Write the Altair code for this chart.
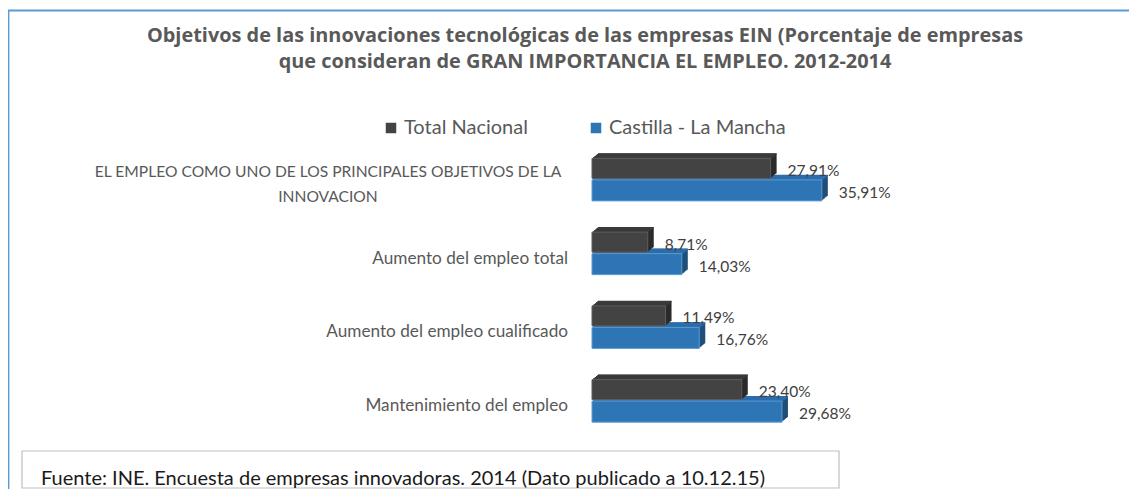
import altair as alt
import pandas as pd

# ---------------- data ----------------
categorias = [
    "EL EMPLEO COMO UNO DE LOS PRINCIPALES OBJETIVOS DE LA INNOVACION",
    "Aumento del empleo total",
    "Aumento del empleo cualificado",
    "Mantenimiento del empleo",
]
etiquetas = [
    "EL EMPLEO COMO UNO DE LOS PRINCIPALES OBJETIVOS DE LA|INNOVACION",
    "Aumento del empleo total",
    "Aumento del empleo cualificado",
    "Mantenimiento del empleo",
]
series = ["Total Nacional", "Castilla - La Mancha"]
total_nacional = [27.91, 8.71, 11.49, 23.40]
castilla_la_mancha = [35.91, 14.03, 16.76, 29.68]

titulo = [
    "Objetivos de las innovaciones tecnológicas de las empresas EIN (Porcentaje de empresas",
    "que consideran de GRAN IMPORTANCIA EL EMPLEO. 2012-2014",
]
fuente = "Fuente: INE. Encuesta de empresas innovadoras. 2014  (Dato publicado a 10.12.15)"

rows = []
for c, e, t, cl in zip(categorias, etiquetas, total_nacional, castilla_la_mancha):
    rows.append({"cat": c, "etiqueta": e, "serie": series[0], "valor": t})
    rows.append({"cat": c, "etiqueta": e, "serie": series[1], "valor": cl})
df = pd.DataFrame(rows)
df_cat = pd.DataFrame({"cat": categorias, "etiqueta": etiquetas})
df_dec = pd.DataFrame({"fuente": [fuente], "titulo": ["\n".join(titulo)]})

FONT = "Lato"
Y = alt.Y("cat:N", sort=categorias, axis=None,
          scale=alt.Scale(paddingInner=0, paddingOuter=0))
X = alt.X("valor:Q", axis=None, scale=alt.Scale(domain=[0, 80], nice=False))

geo = {
    "Total Nacional": dict(yc=-10.5, size=20, front="#434343", stroke="#5e5e5e",
                           top="#3a3a3a", side="#2a2a2a", label_dy=-8),
    "Castilla - La Mancha": dict(yc=11.5, size=21, front="#2e75b6", stroke="#5b9bd5",
                                 top="#2d6dab", side="#1f4e79", label_dy=14),
}
DEPTH = 6
layers = []

# decorations: outer border, title and footer box
layers.append(alt.Chart(df_dec).mark_rect(fill="white", stroke="#5b9bd5", strokeWidth=1.8).encode(
    x=alt.value(-583.5), x2=alt.value(700), y=alt.value(-131.5), y2=alt.value(420)))
layers.append(alt.Chart(df_dec).mark_text(align="center", baseline="alphabetic", lineBreak="\n",
                                          lineHeight=26, fontSize=19.9, fontWeight="bold",
                                          font="Open Sans", color="#595959").encode(
    x=alt.value(-7), y=alt.value(-100), text="titulo:N"))
layers.append(alt.Chart(df_dec).mark_rect(fill="white", stroke="#bfbfbf", strokeWidth=1.2).encode(
    x=alt.value(-570), x2=alt.value(247), y=alt.value(309), y2=alt.value(346)))
layers.append(alt.Chart(df_dec).mark_text(align="left", baseline="middle", fontSize=20,
                                          font=FONT, color="#1a1a1a").encode(
    x=alt.value(-551), y=alt.value(337), text="fuente:N"))

def depth_layers(serie):
    g = geo[serie]
    sub = alt.Chart(df).transform_filter(alt.datum.serie == serie)
    out = []
    for i in range(1, DEPTH + 1):
        dx = i
        dy = i * 5.0 / DEPTH
        out.append(sub.mark_bar(size=g["size"], yOffset=g["yc"] - dy, xOffset=dx,
                                x2Offset=dx, color=g["side"]).encode(x=X, y=Y))
    top_edge = g["yc"] - g["size"] / 2.0
    for i in range(1, DEPTH + 1):
        dx = i
        dy = i * 5.0 / DEPTH
        out.append(sub.mark_bar(size=1.6, yOffset=top_edge - dy + 0.6, xOffset=dx,
                                x2Offset=dx, color=g["top"]).encode(x=X, y=Y))
    return out

layers += depth_layers("Castilla - La Mancha")
layers += depth_layers("Total Nacional")

color = alt.Color(
    "serie:N",
    scale=alt.Scale(domain=series, range=[geo[s]["front"] for s in series]),
    legend=alt.Legend(title=None, orient="none", legendX=-211, legendY=-24,
                      direction="horizontal", symbolType="square", symbolSize=110,
                      symbolStrokeWidth=0, labelFontSize=20, labelColor="#595959",
                      labelFont=FONT, labelOffset=3, labelLimit=400, columnPadding=58,
                      padding=0),
)

for serie in ["Total Nacional", "Castilla - La Mancha"]:
    g = geo[serie]
    sub = alt.Chart(df).transform_filter(alt.datum.serie == serie)
    layers.append(sub.mark_bar(size=g["size"], yOffset=g["yc"], stroke=g["stroke"],
                               strokeWidth=1).encode(x=X, y=Y, color=color))

for serie in ["Total Nacional", "Castilla - La Mancha"]:
    g = geo[serie]
    sub = alt.Chart(df).transform_filter(alt.datum.serie == serie).transform_calculate(
        etiq="replace(format(datum.valor, '.2f'), '.', ',') + '%'")
    layers.append(sub.mark_text(align="left", baseline="middle", dx=17, yOffset=g["label_dy"],
                                fontSize=15.5, font=FONT, color="#404040").encode(
        x=X, y=Y, text="etiq:N"))

# category labels
layers.append(alt.Chart(df_cat).transform_filter("indexof(datum.etiqueta, '|') < 0").mark_text(
    align="right", baseline="middle", yOffset=6, fontSize=17.2, font=FONT, color="#595959").encode(
    x=alt.value(-24), y=Y, text="etiqueta:N"))
layers.append(alt.Chart(df_cat).transform_filter("indexof(datum.etiqueta, '|') >= 0").mark_text(
    align="center", baseline="middle", yOffset=-6.5, lineBreak="|", lineHeight=25, fontSize=15.6,
    font=FONT, color="#595959").encode(
    x=alt.value(-264), y=Y, text="etiqueta:N"))

chart = alt.layer(*layers).properties(
    width=512,
    height=295,
    padding={"left": 584, "top": 134, "right": 25, "bottom": 52},
    autosize=alt.AutoSizeParams(type="none"),
).configure_view(stroke=None).configure(font=FONT)

chart.save("out.html", embed_options={"renderer": "svg", "actions": False})
